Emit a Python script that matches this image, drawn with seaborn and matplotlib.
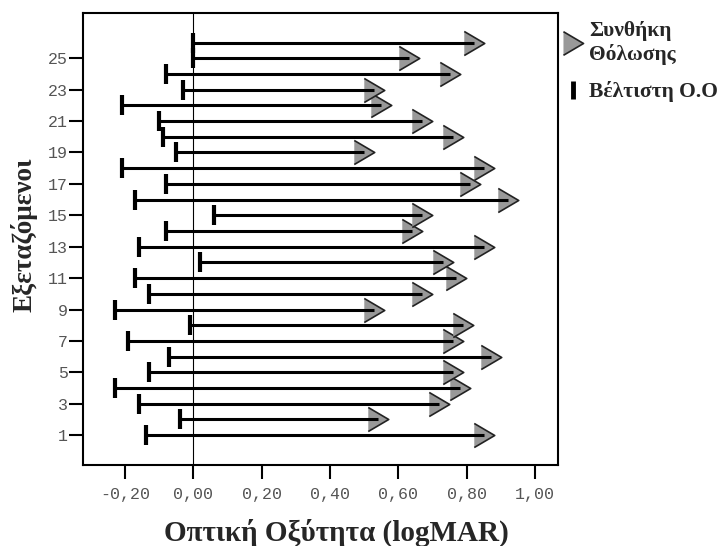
import numpy as np
import pandas as pd
import seaborn as sns
import matplotlib.pyplot as plt
from matplotlib.lines import Line2D

# subjects 1..26, values in logMAR
subjects = list(range(1, 27))
best_va = [-0.14, -0.04, -0.16, -0.23, -0.13, -0.07, -0.19, -0.01, -0.23, -0.13,
           -0.17, 0.02, -0.16, -0.08, 0.06, -0.17, -0.08, -0.21, -0.05, -0.09,
           -0.10, -0.21, -0.03, -0.08, 0.00, 0.00]
blur_cond = [0.85, 0.54, 0.72, 0.78, 0.76, 0.87, 0.76, 0.79, 0.53, 0.67,
             0.77, 0.73, 0.85, 0.64, 0.67, 0.92, 0.81, 0.85, 0.50, 0.76,
             0.67, 0.55, 0.53, 0.75, 0.63, 0.82]
xticks = [-0.2, 0.0, 0.2, 0.4, 0.6, 0.8, 1.0]
yticks = list(range(1, 26, 2))

df = pd.DataFrame({'subject': subjects, 'best': best_va, 'blur': blur_cond})

sns.set_style('ticks')
plt.rcParams['font.family'] = ['Liberation Serif', 'DejaVu Serif']

fig = plt.figure(figsize=(7.26, 5.46), dpi=100)
ax = fig.add_axes([0.1148, 0.1484, 0.6542, 0.8283])

tri = [(-0.85, -1), (0.85, 0), (-0.85, 1)]

ax.axvline(0, color='black', lw=0.8, zorder=1)
sns.scatterplot(data=df, x='blur', y='subject', marker=tri, s=300,
                color='#999999', edgecolor='#222222', linewidth=1.2, ax=ax, zorder=2)
ax.hlines(df['subject'], df['best'], df['blur'], color='black', lw=2.2, zorder=3)
sns.scatterplot(data=df, x='best', y='subject', marker='|', s=220,
                color='black', linewidth=3, ax=ax, zorder=4)

ax.set_xlim(-0.322, 1.068)
ax.set_ylim(-0.9, 27.9)
ax.set_xticks(xticks)
ax.set_xticklabels([f'{v:.2f}'.replace('.', ',') for v in xticks])
ax.set_yticks(yticks)
ax.set_yticklabels([str(v) for v in yticks])
for lab in ax.get_xticklabels() + ax.get_yticklabels():
    lab.set_family('Liberation Mono')
    lab.set_fontsize(12)
    lab.set_color('#555555')
ax.tick_params(axis='both', length=10, width=1.5, color='black')
ax.tick_params(axis='x', pad=6)
ax.tick_params(axis='y', pad=1)
for sp in ax.spines.values():
    sp.set_visible(True)
    sp.set_linewidth(1.5)
    sp.set_color('black')

ax.set_xlabel('Οπτική Οξύτητα (logMAR)', fontsize=21, fontweight='bold')
ax.xaxis.set_label_coords(0.532, -0.118)
ax.set_ylabel('Εξεταζόμενοι', fontsize=19.5, fontweight='bold')
ax.yaxis.set_label_coords(-0.097, 0.51)

handles = [
    Line2D([], [], linestyle='none', marker=tri, markersize=17,
           markerfacecolor='#999999', markeredgecolor='#222222', markeredgewidth=1.2),
    Line2D([], [], linestyle='none', marker='|', markersize=13,
           markeredgecolor='black', markeredgewidth=3.5),
]
ax.legend(handles, ['Συνθήκη\nΘόλωσης', 'Βέλτιστη Ο.Ο'], loc='upper left',
          bbox_to_anchor=(0.968, 1.025), frameon=False, handlelength=1.0,
          handletextpad=0.25, labelspacing=0.75,
          prop={'family': 'Liberation Serif', 'weight': 'bold', 'size': 15.5})

fig.savefig('out.png', dpi=100)
